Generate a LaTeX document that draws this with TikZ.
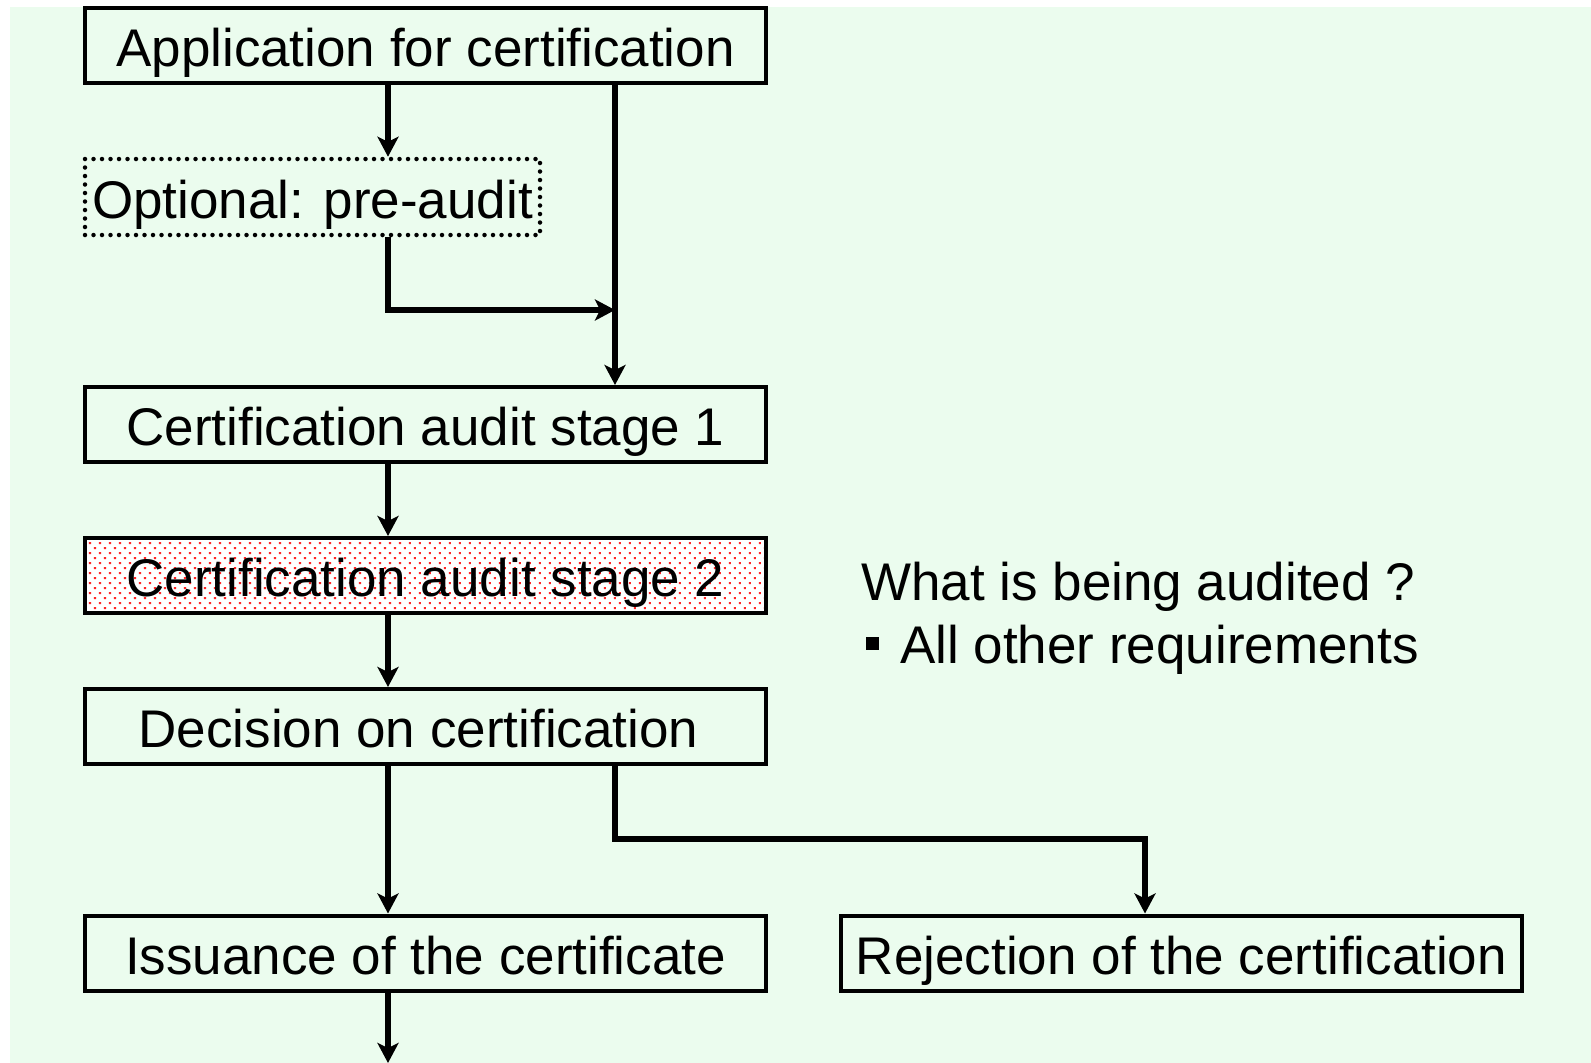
\documentclass[tikz,border=0pt]{standalone}
\usepackage{fontspec}
\setmainfont{Liberation Sans}
\usetikzlibrary{arrows.meta,patterns.meta}
\definecolor{bgreen}{RGB}{235,252,238}
\tikzset{
  boxfont/.style={font=\fontsize{53}{60}\selectfont, text height=44pt, text depth=2pt},
  box/.style={draw=black, line width=4pt, minimum width=681pt, minimum height=75pt, inner sep=0pt, boxfont},
  dotbox/.style={draw=black, line width=4.5pt, dash pattern=on 0pt off 8.5pt, line cap=round, minimum width=455pt, minimum height=76pt, inner sep=0pt, boxfont},
  arr/.style={line width=6pt, -{Stealth[length=20pt,width=21pt,inset=5pt]}},
  txt/.style={inner sep=0pt, anchor=base west, font=\fontsize{53}{60}\selectfont}
}
\begin{document}
\begin{tikzpicture}[x=1pt,y=-1pt]
\useasboundingbox (0,0) rectangle (1591,1063);
\fill[bgreen] (10,7) rectangle (1591,1063);
\node[box] (app) at (425.5,45.5) {Application for certification};
\node[dotbox] (opt) at (312.5,197) {Optional: pre-audit};
\node[box] (s1) at (425.5,424.5) {Certification audit stage 1};
\node[box, preaction={fill=white}, pattern={Dots[distance=7.07pt, angle=45, radius=1.5pt]}, pattern color=red!85] (s2) at (425.5,575.5) {Certification audit stage 2};
\node[box] (dec) at (425.5,726.5) {\hspace*{-14pt}Decision on certification};
\node[box] (iss) at (425.5,953) {Issuance of the certificate};
\node[box] (rej) at (1181.5,953) {Rejection of the certification};
\node[txt] (q) at (861,600) {What is being audited ?};
\node[fill=black, minimum size=13pt, inner sep=0pt] (bul) at (872.5,643) {};
\node[txt] (req) at (900,663) {All other requirements};
\coordinate (j1) at (388,310);
\coordinate (j2) at (615,310);
\coordinate (d1) at (615,839);
\coordinate (d2) at (1145,839);
\coordinate (bot) at (388,1063);
\draw[arr] (app.south -| j1) -- (opt.north -| j1);
\draw[arr] (app.south -| j2) -- (s1.north -| j2);
\draw[arr] (opt.south -| j1) -- (j1) -- (j2);
\draw[arr] (s1.south -| j1) -- (s2.north -| j1);
\draw[arr] (s2.south -| j1) -- (dec.north -| j1);
\draw[arr] (dec.south -| j1) -- (iss.north -| j1);
\draw[arr] (dec.south -| d1) -- (d1) -- (d2) -- (rej.north -| d2);
\draw[arr] (iss.south -| j1) -- (bot);
\end{tikzpicture}
\end{document}
